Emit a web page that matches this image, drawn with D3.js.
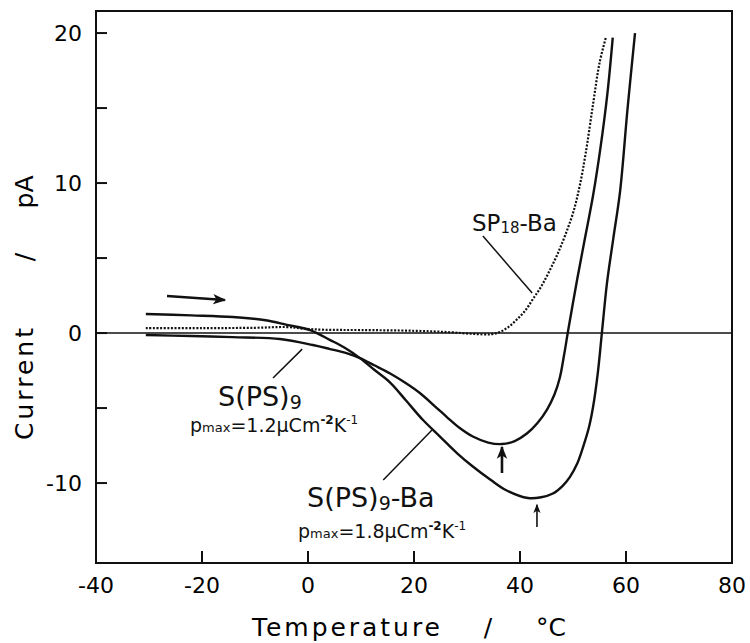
<!DOCTYPE html>
<html>
<head>
<meta charset="utf-8">
<script src="https://cdn.jsdelivr.net/npm/d3@7"></script>
<style>
  body { margin: 0; background: #fff; }
  svg { display: block; }
</style>
</head>
<body>
<div id="chart"></div>
<script>
// data: [temperature °C, current pA]
const sps9Ba = [
  [-30.6, 1.27], [-22, 1.18], [-14.2, 1.07], [-8, 0.85], [-4, 0.55], [0.4, 0.2],
  [4.2, -0.47], [7, -1.0], [9.8, -1.67], [12.5, -2.45], [15.5, -3.3], [18.5, -4.5],
  [21.7, -5.8], [24.9, -6.9], [28.1, -8.0], [31.1, -8.9], [34.5, -9.8], [37.5, -10.5],
  [41.5, -11.0], [44, -10.95], [46.2, -10.7], [48, -10.2], [49.4, -9.6], [50.8, -8.7],
  [51.9, -7.6], [53, -6.3], [53.8, -4.9], [54.7, -2.6], [55.5, 0.2], [56.4, 3.3],
  [57.6, 6.3], [58.9, 9.5], [60.3, 15.0], [61.7, 20]
];
const sps9 = [
  [-30.6, -0.13], [-22, -0.2], [-14.2, -0.27], [-5.3, -0.4], [0.9, -0.8], [4, -1.05],
  [7.4, -1.35], [9.8, -1.67], [12.5, -2.15], [15.5, -2.7], [18.5, -3.35], [21.1, -4.0],
  [24, -4.9], [26.2, -5.6], [28.5, -6.3], [31.1, -6.9], [34, -7.3], [36.6, -7.4],
  [39, -7.2], [41.3, -6.7], [43.3, -6.0], [45.1, -5.1], [46.5, -4.1], [47.5, -3.0],
  [48.3, -1.5], [49.1, 0.2], [50.8, 3.6], [52.3, 6.4], [53.8, 9.2], [55.2, 12.4],
  [56.5, 16.0], [57.5, 19.7]
];
const sp18Ba = [
  [-30.6, 0.33], [-20, 0.33], [-10, 0.35], [-4, 0.4], [-1, 0.3], [3, 0.22], [10, 0.2],
  [20, 0.15], [27, 0.05], [31, -0.05], [34.5, -0.08], [36.2, 0.07], [37.8, 0.4],
  [39.4, 0.9], [41, 1.5], [42.5, 2.3], [44, 3.1], [45.5, 4.1], [47, 5.2], [48.5, 6.5],
  [50, 8.0], [51.2, 9.7], [52.4, 12.0], [53.8, 15.3], [55, 18], [56.2, 19.7]
];
const xTicks = [-40, -20, 0, 20, 40, 60, 80];
const yTicks = [-10, 0, 10, 20];
const yMinorTicks = [-5, 5, 15];

const width = 750, height = 643;
const x = d3.scaleLinear().domain([-40, 80]).range([96, 732]);
const y = d3.scaleLinear().domain([-15.33, 21.47]).range([563, 11]);
const font = "'DejaVu Sans', sans-serif";

const svg = d3.select("#chart").append("svg")
  .attr("width", width)
  .attr("height", height)
  .style("font-family", font);

const defs = svg.append("defs");
function marker(id, size) {
  defs.append("marker")
    .attr("id", id)
    .attr("viewBox", "0 0 10 10")
    .attr("refX", 9).attr("refY", 5)
    .attr("markerWidth", size).attr("markerHeight", size)
    .attr("markerUnits", "userSpaceOnUse")
    .attr("orient", "auto")
    .append("path")
    .attr("d", "M0,1 L10,5 L0,9 L2.5,5 Z")
    .attr("fill", "#111");
}
marker("headBig", 13);
marker("headSmall", 9);

// frame
svg.append("rect")
  .attr("x", x(-40)).attr("y", y(21.47))
  .attr("width", x(80) - x(-40)).attr("height", y(-15.33) - y(21.47))
  .attr("fill", "none").attr("stroke", "#111").attr("stroke-width", 2);

// zero line
svg.append("line")
  .attr("x1", x(-40)).attr("x2", x(80))
  .attr("y1", y(0)).attr("y2", y(0))
  .attr("stroke", "#111").attr("stroke-width", 1.4);

// x ticks (inside, pointing up) and labels
svg.selectAll(".xtick")
  .data(xTicks.filter(d => d > -40 && d < 80))
  .join("line")
  .attr("x1", d => x(d)).attr("x2", d => x(d))
  .attr("y1", y(-15.33)).attr("y2", y(-15.33) - 12)
  .attr("stroke", "#111").attr("stroke-width", 2);

svg.selectAll(".xlabel")
  .data(xTicks)
  .join("text")
  .attr("x", d => x(d))
  .attr("y", 593)
  .attr("text-anchor", "middle")
  .style("font-size", "22px")
  .text(d => d < 0 ? "-" + Math.abs(d) : d);

// y ticks (inside, pointing right)
svg.selectAll(".ytick")
  .data(yTicks.concat(yMinorTicks))
  .join("line")
  .attr("x1", x(-40)).attr("x2", x(-40) + 11)
  .attr("y1", d => y(d)).attr("y2", d => y(d))
  .attr("stroke", "#111").attr("stroke-width", 2);

svg.selectAll(".ylabel")
  .data(yTicks)
  .join("text")
  .attr("x", 82)
  .attr("y", d => y(d) + 8)
  .attr("text-anchor", "end")
  .style("font-size", "22px")
  .text(d => d < 0 ? "-" + Math.abs(d) : d);

// axis titles
const xt = svg.append("g").style("font-size", "25px");
xt.append("text").attr("x", 252).attr("y", 636).attr("textLength", 188).text("Temperature");
xt.append("text").attr("x", 488).attr("y", 636).attr("text-anchor", "middle").text("/");
xt.append("text").attr("x", 536).attr("y", 636).text("°C");

const yt = svg.append("g").style("font-size", "25px");
yt.append("text").attr("transform", "translate(33,384) rotate(-90)")
  .attr("text-anchor", "middle").attr("textLength", 112).text("Current");
yt.append("text").attr("transform", "translate(33,257) rotate(-90)")
  .attr("text-anchor", "middle").text("/");
yt.append("text").attr("transform", "translate(33,192) rotate(-90)")
  .attr("text-anchor", "middle").text("pA");

// curves
const line = d3.line()
  .x(d => x(d[0]))
  .y(d => y(d[1]))
  .curve(d3.curveCatmullRom.alpha(0.5));

svg.append("path").datum(sps9Ba).attr("d", line)
  .attr("fill", "none").attr("stroke", "#111").attr("stroke-width", 2.4);
svg.append("path").datum(sps9).attr("d", line)
  .attr("fill", "none").attr("stroke", "#111").attr("stroke-width", 2.4);
svg.append("path").datum(sp18Ba).attr("d", line)
  .attr("fill", "none").attr("stroke", "#111").attr("stroke-width", 2.2)
  .attr("stroke-dasharray", "2,1.6");

// arrows
function arrow(t1, v1, t2, v2, w, head) {
  svg.append("line")
    .attr("x1", x(t1)).attr("y1", y(v1))
    .attr("x2", x(t2)).attr("y2", y(v2))
    .attr("stroke", "#111").attr("stroke-width", w)
    .attr("marker-end", `url(#${head})`);
}
arrow(-26.6, 2.47, -15.7, 2.2, 2.4, "headBig");
arrow(36.6, -9.33, 36.6, -7.6, 2.6, "headBig");
arrow(43.2, -12.93, 43.2, -11.45, 1.6, "headSmall");

// pointer lines
function pointer(t1, v1, t2, v2) {
  svg.append("line")
    .attr("x1", x(t1)).attr("y1", y(v1))
    .attr("x2", x(t2)).attr("y2", y(v2))
    .attr("stroke", "#111").attr("stroke-width", 1.5);
}
pointer(33.0, 6.47, 42.3, 2.67);
pointer(-6.6, -3.0, -1.1, -1.07);
pointer(14.2, -9.8, 23.4, -6.47);

// labels
const lab = svg.append("g").attr("fill", "#111");

const t1 = lab.append("text").attr("x", 472).attr("y", 231).style("font-size", "23px");
t1.append("tspan").text("SP");
t1.append("tspan").style("font-size", "15px").attr("dy", 2).text("18");
t1.append("tspan").attr("dy", -2).text("-Ba");

function nameLabel(px, py, sub, tail) {
  const t = lab.append("text").attr("x", px).attr("y", py).style("font-size", "27px");
  t.append("tspan").text("S(PS)");
  t.append("tspan").style("font-size", "19px").attr("dy", 3).text(sub);
  if (tail) t.append("tspan").attr("dy", -3).text(tail);
}
function pLabel(px, py, val) {
  const t = lab.append("text").attr("x", px).attr("y", py).style("font-size", "19px");
  t.append("tspan").text("p");
  t.append("tspan").style("font-size", "13px").text("max");
  t.append("tspan").text("=" + val + "μCm");
  t.append("tspan").style("font-size", "12px").style("font-weight", "bold").attr("dy", -8).text("-2");
  t.append("tspan").attr("dy", 8).text("K");
  t.append("tspan").style("font-size", "12px").attr("dy", -8).text("-1");
}
nameLabel(218, 406, "9", null);
pLabel(190, 432, "1.2");
nameLabel(307, 507, "9", "-Ba");
pLabel(298, 538, "1.8");
</script>
</body>
</html>
